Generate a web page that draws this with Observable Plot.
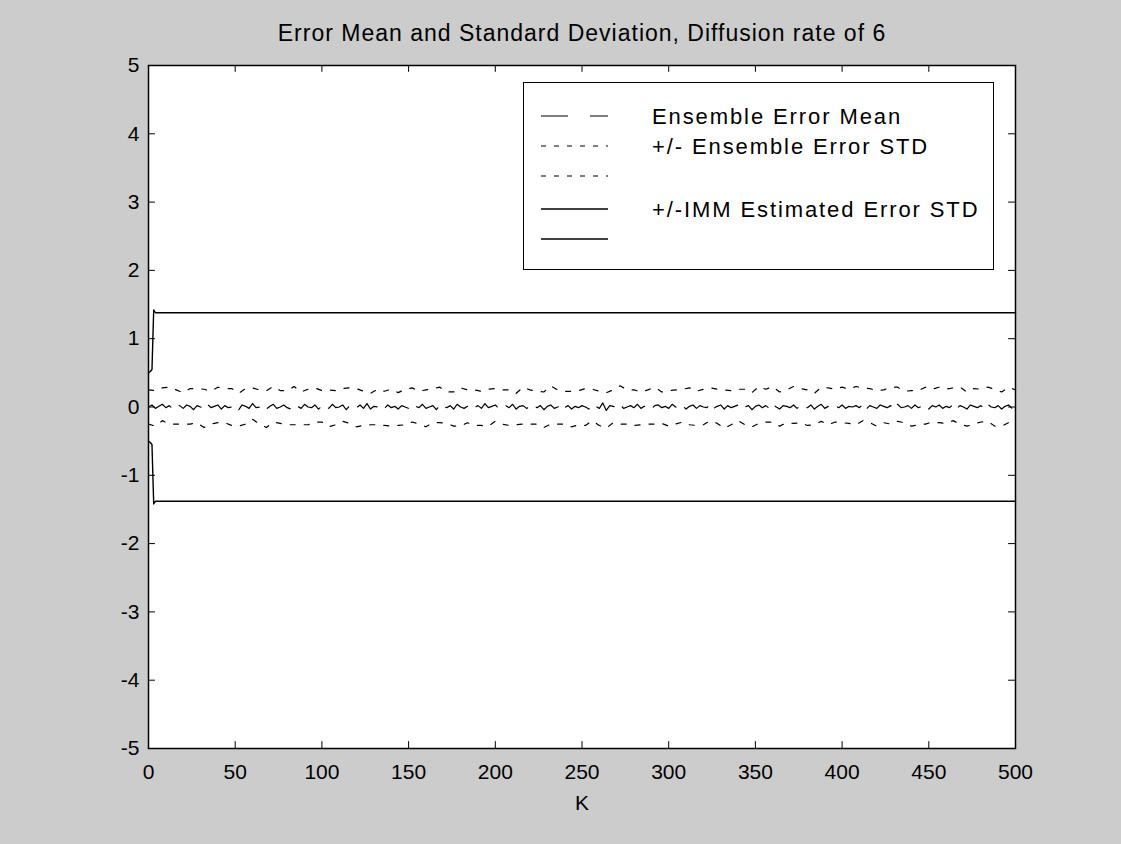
<!DOCTYPE html>
<html>
<head>
<meta charset="utf-8">
<script src="https://cdn.jsdelivr.net/npm/d3@7"></script>
<script src="https://cdn.jsdelivr.net/npm/@observablehq/plot@0.6"></script>
<style>
  body { margin: 0; background: #cccccc; font-family: "Liberation Sans", Arial, sans-serif; }
  #wrap { position: relative; width: 1121px; height: 844px; }
  #legend { position: absolute; left: 523px; top: 82px; width: 469px; height: 186px; background: #fff; border: 1.5px solid #000; }
</style>
</head>
<body>
<div id="wrap"></div>
<script>
const titleText = "Error Mean and Standard Deviation, Diffusion rate of 6";
const xLabel = "K";
const xTicks = [0, 50, 100, 150, 200, 250, 300, 350, 400, 450, 500];
const yTicks = [-5, -4, -3, -2, -1, 0, 1, 2, 3, 4, 5];
const legendLabels = ["Ensemble Error Mean", "+/- Ensemble Error STD", "", "+/-IMM Estimated Error STD", ""];

// Ensemble error mean, K = 0, 2, 4, ..., 500
const meanStep = 2;
const meanVals = [
 0.00,0.03,-0.02,0.01,0.04,-0.01,0.02,-0.03,0.00,0.02,-0.02,0.03,0.01,-0.04,0.02,0.00,-0.02,0.04,-0.01,0.01,0.03,-0.03,0.02,-0.01,0.00,
 0.02,-0.04,0.03,0.01,-0.02,0.05,-0.01,0.00,0.02,-0.03,0.01,0.04,-0.02,0.00,0.03,-0.01,-0.03,0.02,0.01,-0.02,0.04,0.00,-0.01,0.03,-0.03,
 0.01,0.02,-0.02,0.04,-0.01,0.00,0.03,-0.04,0.02,0.01,-0.01,0.03,-0.02,0.05,-0.03,0.01,0.00,0.02,-0.02,0.03,-0.01,0.01,-0.03,0.02,0.00,
 -0.02,0.03,0.01,-0.01,0.04,-0.02,0.00,0.02,-0.04,0.03,0.01,-0.01,0.02,-0.03,0.04,0.00,-0.02,0.01,0.03,-0.01,0.02,-0.02,0.05,-0.01,0.01,
 0.03,-0.02,0.00,0.02,-0.01,0.04,-0.03,0.01,0.02,-0.02,0.00,0.03,-0.01,0.02,-0.04,0.01,0.03,-0.02,0.00,0.04,-0.01,0.02,-0.03,0.01,-0.01,
 0.02,0.00,-0.03,0.03,0.01,-0.02,0.06,-0.05,0.02,0.01,-0.01,0.03,-0.02,0.00,0.02,-0.01,0.04,-0.02,0.01,0.00,-0.03,0.02,0.03,-0.01,0.01,
 -0.02,0.04,0.00,-0.01,0.02,-0.03,0.01,0.03,-0.02,0.02,0.00,-0.01,0.04,-0.02,0.01,0.03,-0.03,0.02,-0.01,0.01,0.03,-0.02,0.00,0.02,-0.04,
 0.01,0.03,-0.01,0.02,-0.02,0.04,0.00,-0.03,0.02,0.01,-0.01,0.03,-0.02,0.02,0.00,-0.01,0.03,-0.03,0.01,0.04,-0.02,0.01,0.00,0.02,-0.01,
 0.03,-0.02,0.01,0.00,0.02,-0.01,0.04,-0.03,0.02,0.00,-0.02,0.03,0.01,-0.01,0.02,-0.03,0.04,-0.01,0.00,0.02,-0.02,0.03,-0.01,0.01,0.02,
 -0.03,0.02,0.00,0.03,-0.02,0.01,-0.01,0.04,-0.02,0.02,0.00,-0.03,0.03,0.01,-0.01,0.02,-0.02,0.04,0.00,-0.01,0.02,-0.03,0.01,0.03,-0.02,
 0.00
];
// Ensemble error STD, K = 0, 4, 8, ..., 500
const stdStep = 4;
const stdVals = [
 0.25,0.26,0.24,0.27,0.25,0.23,0.26,0.25,0.28,0.24,0.26,0.25,0.27,0.24,0.26,0.23,0.25,0.27,0.26,0.24,
 0.25,0.28,0.24,0.26,0.25,0.23,0.27,0.25,0.24,0.26,0.28,0.25,0.23,0.26,0.25,0.27,0.24,0.26,0.25,0.24,
 0.27,0.25,0.26,0.23,0.25,0.28,0.24,0.26,0.25,0.27,0.24,0.25,0.26,0.23,0.27,0.25,0.24,0.26,0.28,0.25,
 0.24,0.26,0.25,0.27,0.23,0.25,0.26,0.24,0.28,0.25,0.26,0.24,0.25,0.27,0.23,0.26,0.25,0.24,0.27,0.25,
 0.26,0.24,0.25,0.28,0.25,0.23,0.26,0.25,0.27,0.24,0.26,0.25,0.24,0.27,0.25,0.26,0.23,0.25,0.27,0.24,
 0.26,0.25,0.28,0.24,0.25,0.26,0.24,0.27,0.25,0.23,0.26,0.25,0.27,0.24,0.26,0.25,0.24,0.27,0.25,0.26,
 0.24,0.25,0.27,0.25,0.26,0.25
];
// IMM estimated error STD
const immK = [0, 1, 2, 3, 4, 500];
const immVals = [0.50, 0.52, 0.55, 1.42, 1.38, 1.38];

const meanData = meanVals.map((m, i) => ({k: i * meanStep, mean: m}));
const stdData = stdVals.map((s, i) => {
  const k = i * stdStep;
  const m = meanVals[k / meanStep];
  return {k, up: m + s, lo: m - s};
});
const imm = immK.map((k, i) => ({k, up: immVals[i], lo: -immVals[i]}));

const chart = Plot.plot({
  width: 1121,
  height: 844,
  marginLeft: 148,
  marginRight: 106,
  marginTop: 65,
  marginBottom: 96,
  style: {background: "#cccccc", fontFamily: "'Liberation Sans', Arial, sans-serif", color: "#000"},
  x: {domain: [0, 500]},
  y: {domain: [-5, 5]},
  marks: [
    Plot.frame({fill: "#fff"}),
    Plot.line(meanData, {x: "k", y: "mean", stroke: "#000", strokeWidth: 1.2, strokeDasharray: "28,10"}),
    Plot.line(stdData, {x: "k", y: "up", stroke: "#000", strokeWidth: 1.2, strokeDasharray: "5,9"}),
    Plot.line(stdData, {x: "k", y: "lo", stroke: "#000", strokeWidth: 1.2, strokeDasharray: "5,9"}),
    Plot.line(imm, {x: "k", y: "up", stroke: "#000", strokeWidth: 1.4}),
    Plot.line(imm, {x: "k", y: "lo", stroke: "#000", strokeWidth: 1.4}),
    Plot.ruleX(xTicks, {x: d => d, y1: -5, y2: -4.9, stroke: "#000"}),
    Plot.ruleX(xTicks, {x: d => d, y1: 5, y2: 4.9, stroke: "#000"}),
    Plot.ruleY(yTicks, {y: d => d, x1: 0, x2: 4, stroke: "#000"}),
    Plot.ruleY(yTicks, {y: d => d, x1: 500, x2: 496, stroke: "#000"}),
    Plot.frame({stroke: "#000", strokeWidth: 1.5}),
    Plot.axisX(xTicks, {tickSize: 0, tickPadding: 16, fontSize: 21, label: null, tickFormat: d => String(d)}),
    Plot.axisY(yTicks, {tickSize: 0, tickPadding: 9, fontSize: 21, label: null, tickFormat: d => String(d)}),
    Plot.text([xLabel], {frameAnchor: "bottom", lineAnchor: "middle", dy: 55, fontSize: 21, fill: "#000"}),
    Plot.text([titleText], {frameAnchor: "top", lineAnchor: "middle", dy: -32, fontSize: 23, fill: "#000"})
  ]
});
const wrap = document.getElementById("wrap");
wrap.appendChild(chart);
chart.querySelectorAll("text").forEach(t => { if (t.textContent === titleText) t.setAttribute("letter-spacing", "1"); });

// legend
const leg = document.createElement("div");
leg.id = "legend";
const rowsY = [33, 63, 93, 126, 156];
const dashes = ["27,22", "5,8", "5,8", null, null];
let svg = `<svg width="469" height="186" xmlns="http://www.w3.org/2000/svg" style="font-family:'Liberation Sans',Arial,sans-serif">`;
rowsY.forEach((y, i) => {
  svg += `<line x1="17" x2="84" y1="${y}" y2="${y}" stroke="#000" stroke-width="${dashes[i] ? 1.2 : 1.5}" ${dashes[i] ? `stroke-dasharray="${dashes[i]}"` : ""}/>`;
  if (legendLabels[i]) svg += `<text x="128" y="${y}" dy="0.36em" font-size="22" letter-spacing="1.9" fill="#000">${legendLabels[i]}</text>`;
});
svg += `</svg>`;
leg.innerHTML = svg;
wrap.appendChild(leg);
</script>
</body>
</html>
